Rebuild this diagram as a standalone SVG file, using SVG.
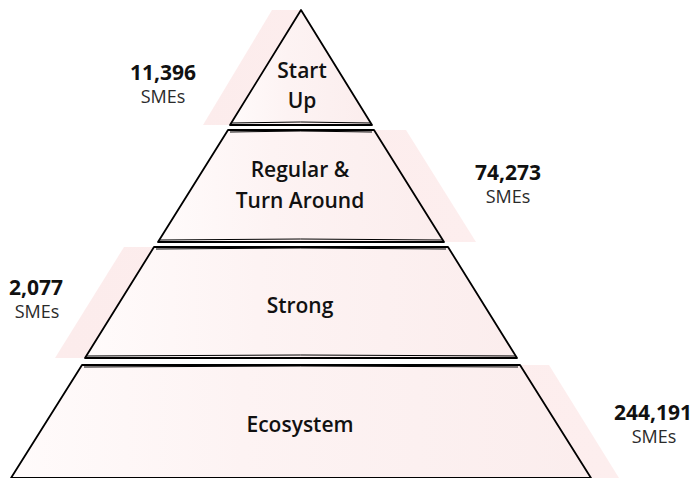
<svg xmlns="http://www.w3.org/2000/svg" width="696" height="478" viewBox="0 0 696 478">
  <defs>
    <linearGradient id="fill" x1="0" y1="0" x2="1" y2="0">
      <stop offset="0" stop-color="#fffbfb"/>
      <stop offset="0.4" stop-color="#fdf3f3"/>
      <stop offset="1" stop-color="#fbeded"/>
    </linearGradient>
    <linearGradient id="shadow" x1="0" y1="0" x2="1" y2="0">
      <stop offset="0" stop-color="#fcecec"/>
      <stop offset="1" stop-color="#fdeeee"/>
    </linearGradient>
    <style>
      .shadow { fill: url(#shadow); stroke: none; }
      .layer { fill: url(#fill); stroke: #000; stroke-width: 1.8; stroke-linejoin: round; }
      .sketch { fill: none; stroke: #000; stroke-width: 1; }
      .label { font-family: "Open Sans", "Noto Sans", sans-serif; font-size: 21px; font-weight: 600; fill: #111; text-anchor: middle; }
      .num { font-family: "Open Sans", "Noto Sans", sans-serif; font-size: 21px; font-weight: 700; fill: #111; text-anchor: middle; }
      .sme { font-family: "Open Sans", "Noto Sans", sans-serif; font-size: 18px; font-weight: 400; fill: #2a2a2a; text-anchor: middle; }
    </style>
  </defs>

  <g id="shadows">
    <polygon class="shadow" points="272,10 301,10 372,125 203,125"/>
    <polygon class="shadow" points="258,130 406,130 476,242 188,242"/>
    <polygon class="shadow" points="124,247 418,247 487,358 55,358"/>
    <polygon class="shadow" points="109,365 549,365 619,478 39,478"/>
  </g>

  <g id="startup">
    <polygon class="layer" points="301,10 372,125 230,125"/>
    <path class="sketch" d="M231,123 Q300,121 371,123"/>
    <text class="label" x="302" y="78">Start</text>
    <text class="label" x="302" y="108">Up</text>
    <text class="num" x="163" y="80">11,396</text>
    <text class="sme" x="163" y="103">SMEs</text>
  </g>

  <g id="regular">
    <polygon class="layer" points="228,130 374,130 444,242 158,242"/>
    <path class="sketch" d="M230,132 Q300,130 372,132"/>
    <path class="sketch" d="M160,240 Q300,238 442,240"/>
    <text class="label" x="300" y="177">Regular &amp;</text>
    <text class="label" x="300" y="208">Turn Around</text>
    <text class="num" x="508" y="180">74,273</text>
    <text class="sme" x="508" y="203">SMEs</text>
  </g>

  <g id="strong">
    <polygon class="layer" points="154,247 448,247 517,358 85,358"/>
    <path class="sketch" d="M156,249 Q300,247 446,249"/>
    <path class="sketch" d="M87,356 Q300,354 515,356"/>
    <text class="label" x="300" y="313">Strong</text>
    <text class="num" x="36" y="295">2,077</text>
    <text class="sme" x="37" y="318">SMEs</text>
  </g>

  <g id="ecosystem">
    <polygon class="layer" points="82,365 520,365 591,478 11,478"/>
    <path class="sketch" d="M84,367 Q300,365 518,367"/>
    <text class="label" x="300" y="432">Ecosystem</text>
    <text class="num" x="653" y="420">244,191</text>
    <text class="sme" x="654" y="443">SMEs</text>
  </g>
</svg>
